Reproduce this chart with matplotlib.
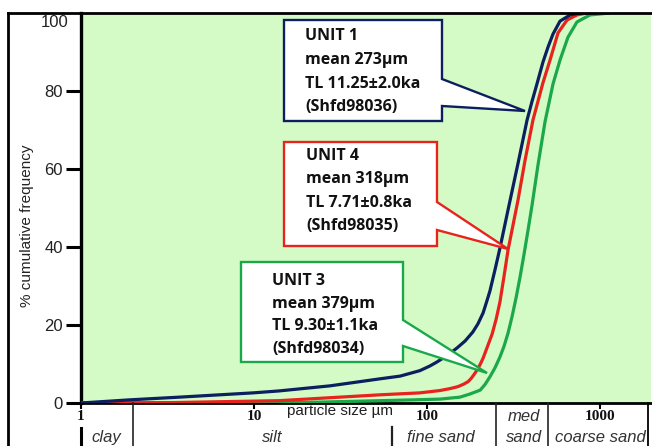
import matplotlib
matplotlib.use('Agg')
import matplotlib.pyplot as plt
from matplotlib.patches import Polygon
from matplotlib.lines import Line2D
from matplotlib.ticker import NullLocator
import matplotlib.transforms as mtransforms

W, H = 652, 446

# ---------------- data ----------------
unit1_size = [1, 1.9, 3.7, 9.9, 14, 27.5, 53.5, 70, 91, 104, 114, 131, 149, 166, 184, 197, 211, 222, 231, 247,
              264, 294, 336, 379, 405, 432, 468, 501, 535, 587, 671, 766]
unit1_cum = [0, 0.8, 1.5, 2.6, 3.1, 4.4, 6.2, 6.9, 8.3, 9.5, 10.5, 12.2, 14.1, 15.9, 18.2, 20.3, 23.1, 26.2, 28.7, 34.1,
             39.7, 49.5, 61.5, 72.6, 77.4, 81.8, 87.4, 91.3, 94.6, 97.9, 99.5, 100]

unit4_size = [1, 3.3, 14, 53.5, 91, 119, 136, 151, 164, 173, 180, 187, 195, 203, 211, 222, 238, 251, 264, 279,
              294, 336, 369, 410, 468, 514, 572, 645, 736, 842]
unit4_cum = [0, 0.1, 0.6, 2.1, 2.6, 3.2, 3.7, 4.2, 4.9, 5.5, 6.3, 7.3, 8.5, 9.9, 11.5, 14.1, 17.7, 21.5, 25.9, 32.6,
             39.2, 52.1, 62.3, 72.6, 82.1, 87.9, 94.9, 98.2, 99.5, 100]

unit3_size = [1, 18.4, 83, 119, 155, 177, 203, 216, 231, 247, 264, 279, 294, 310, 327, 345, 364, 384, 405, 438,
              481, 535, 587, 653, 736, 875, 1142]
unit3_cum = [0, 0.1, 0.8, 1.0, 1.5, 2.3, 3.3, 4.7, 6.7, 9.0, 11.8, 14.6, 17.9, 22.1, 26.9, 32.3, 38.2, 44.4, 50.8, 61.0,
             72.1, 81.8, 87.9, 93.8, 97.7, 99.5, 100]

ytick_vals = [0, 20, 40, 60, 80]
ytick_labels = ['0', '20', '40', '60', '80']
xtick_vals = [1, 10, 100, 1000]
xtick_labels = ['1', '10', '100', '1000']
class_bounds = [2, 63, 250, 500]

unit1_text = ['UNIT 1', 'mean 273\u00b5m', 'TL 11.25\u00b12.0ka', '(Shfd98036)']
unit4_text = ['UNIT 4', 'mean 318\u00b5m', 'TL 7.71\u00b10.8ka', '(Shfd98035)']
unit3_text = ['UNIT 3', 'mean 379\u00b5m', 'TL 9.30\u00b11.1ka', '(Shfd98034)']

# ---------------- styling ----------------
NAVY = '#0c1f5e'
RED = '#e8231d'
GREEN = '#1aa84a'
BG = '#d4fbc6'
BOXFONT = dict(family='Open Sans', fontweight='bold', fontsize=11.5, color='#111111')


def fx(px):
    return px / W


def fy(py):
    return 1 - py / H


fig = plt.figure(figsize=(W / 100, H / 100), dpi=100)
fig.patch.set_facecolor('white')

ax_left, ax_right, ax_top, ax_bot = 81, 651, 13, 403
ax = fig.add_axes([fx(ax_left), fy(ax_bot), (ax_right - ax_left) / W, (ax_bot - ax_top) / H])
ax.set_facecolor(BG)
ax.set_xscale('log')
ax.set_xlim(1, 10 ** ((ax_right - ax_left) / 173.0))
ax.set_ylim(0, 100)

line_kw = dict(lw=2.3, solid_capstyle='round', solid_joinstyle='round')
ax.plot(unit3_size, unit3_cum, color=GREEN, zorder=3, **line_kw)
ax.plot(unit4_size, unit4_cum, color=RED, zorder=4, **line_kw)
ax.plot(unit1_size, unit1_cum, color=NAVY, zorder=5, **line_kw)

for s in ['top', 'right']:
    ax.spines[s].set_visible(False)
ax.spines['left'].set_linewidth(2.4)
ax.spines['bottom'].set_linewidth(2.0)

ax.set_yticks(ytick_vals)
ax.set_yticklabels(ytick_labels)
ax.tick_params(axis='y', direction='out', length=10.5, width=2.2, pad=2.5,
               labelsize=12, labelcolor='#222222')
for t in ax.get_yticklabels():
    t.set_family('Liberation Sans')

ax.set_xticks(xtick_vals)
ax.set_xticklabels(xtick_labels)
ax.xaxis.set_minor_locator(NullLocator())
ax.tick_params(axis='x', direction='out', length=4.5, width=1.5, pad=0.5,
               labelsize=11, labelcolor='#111111')
for t in ax.get_xticklabels():
    t.set_family('Liberation Serif')
    t.set_fontweight('bold')

fig.text(fx(69), fy(22.5), '100', ha='right', va='center', fontsize=12,
         family='Liberation Sans', color='#222222')
fig.text(fx(27), fy(226), '% cumulative frequency', rotation=90, ha='center', va='center',
         fontsize=11, family='Liberation Sans', color='#222222')

# ---------------- outer frame ----------------
frame_kw = dict(color='black', lw=2.0, transform=fig.transFigure)
fig.add_artist(Line2D([fx(8), fx(651)], [fy(13), fy(13)], **frame_kw))
fig.add_artist(Line2D([fx(8), fx(8)], [fy(13), fy(446)], **frame_kw))
fig.add_artist(Line2D([fx(648), fx(648)], [fy(403), fy(446)], color='black', lw=1.3,
                      transform=fig.transFigure))

# ---------------- grain-size class band ----------------
blend = mtransforms.blended_transform_factory(ax.transData, fig.transFigure)
sep_tops = [403, 427, 403, 403]
sep_widths = [1.2, 1.6, 1.2, 1.2]
for b, top, lw in zip(class_bounds, sep_tops, sep_widths):
    fig.add_artist(Line2D([b, b], [fy(top), fy(446)], color='#222222', lw=lw, transform=blend))
fig.add_artist(Line2D([fx(81), fx(81)], [fy(428), fy(446)], color='black', lw=2.2,
                      transform=fig.transFigure))

cls_kw = dict(fontsize=12, style='italic', family='Liberation Sans', color='#333333',
              ha='center', va='baseline')
fig.text(fx(106), fy(442), 'clay', **cls_kw)
fig.text(fx(272), fy(442), 'silt', **cls_kw)
fig.text(fx(441), fy(442), 'fine sand', **cls_kw)
fig.text(fx(524), fy(421), 'med', **cls_kw)
fig.text(fx(524), fy(442), 'sand', **cls_kw)
fig.text(fx(600), fy(442), 'coarse sand', **cls_kw)
fig.text(fx(340), fy(415), 'particle size \u00b5m', ha='center', va='baseline', fontsize=11,
         family='Liberation Sans', color='#222222')


# ---------------- callout boxes ----------------
def callout(left, top, right, bottom, w_top, tip, w_bot, color, lines, tx, baselines):
    verts = [(left, top), (right, top), (right, w_top), tip, (right, w_bot), (right, bottom), (left, bottom)]
    poly = Polygon([(fx(x), fy(y)) for x, y in verts], closed=True, transform=fig.transFigure,
                   facecolor='white', edgecolor=color, lw=1.7, joinstyle='miter', zorder=10)
    fig.add_artist(poly)
    for line, by in zip(lines, baselines):
        fig.text(fx(tx), fy(by), line, ha='left', va='baseline', zorder=11, **BOXFONT)


callout(284, 20, 442, 121, 79, (525, 111), 106, NAVY, unit1_text, 305, [39.5, 63.5, 87.5, 111])
callout(284, 142, 437, 246, 202, (508, 249), 230, RED, unit4_text, 306, [159.5, 183, 206.5, 230])
callout(241, 262, 403, 362, 320, (487, 373), 346, GREEN, unit3_text, 272, [285, 308, 330.5, 353])

fig.savefig('out.png', dpi=100)
